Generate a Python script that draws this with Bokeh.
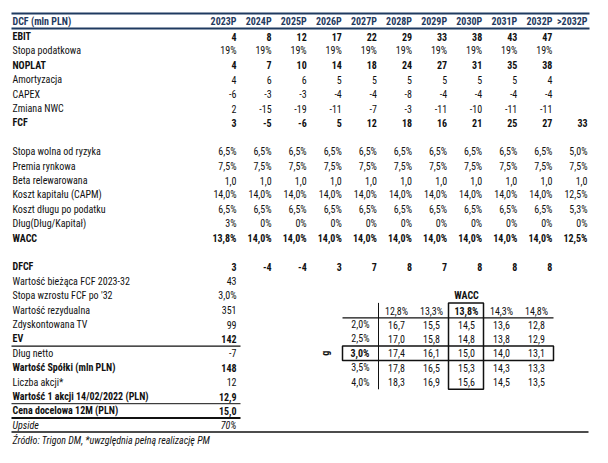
from bokeh.plotting import figure
from bokeh.models import Range1d, ColumnDataSource
from bokeh.core.properties import value
from bokeh.embed import file_html
from bokeh.resources import INLINE

# ---------------- data ----------------
years = ["2023P", "2024P", "2025P", "2026P", "2027P", "2028P", "2029P", "2030P", "2031P", "2032P", ">2032P"]
header_label = "DCF (mln PLN)"

ebit = ["4", "8", "12", "17", "22", "29", "33", "38", "43", "47", ""]
tax_rate = ["19%"] * 10 + [""]
noplat = ["4", "7", "10", "14", "18", "24", "27", "31", "35", "38", ""]
amort = ["4", "6", "6", "5", "5", "5", "5", "5", "5", "4", ""]
capex = ["-6", "-3", "-3", "-4", "-4", "-8", "-4", "-4", "-4", "-4", ""]
nwc = ["2", "-15", "-19", "-11", "-7", "-3", "-11", "-10", "-11", "-11", ""]
fcf = ["3", "-5", "-6", "5", "12", "18", "16", "21", "25", "27", "33"]
rf = ["6,5%"] * 10 + ["5,0%"]
premium = ["7,5%"] * 11
beta = ["1,0"] * 11
coe = ["14,0%"] * 10 + ["12,5%"]
cod = ["6,5%"] * 10 + ["5,3%"]
debt_ratio = ["3%"] + ["0%"] * 10
wacc = ["13,8%"] + ["14,0%"] * 9 + ["12,5%"]
dfcf = ["3", "-4", "-4", "3", "7", "8", "7", "8", "8", "8", ""]

# (row index, label, values, bold)
table_rows = [
    (0, "EBIT", ebit, True),
    (1, "Stopa podatkowa", tax_rate, False),
    (2, "NOPLAT", noplat, True),
    (3, "Amortyzacja", amort, False),
    (4, "CAPEX", capex, False),
    (5, "Zmiana NWC", nwc, False),
    (6, "FCF", fcf, True),
    (8, "Stopa wolna od ryzyka", rf, False),
    (9, "Premia rynkowa", premium, False),
    (10, "Beta relewarowana", beta, False),
    (11, "Koszt kapitału (CAPM)", coe, False),
    (12, "Koszt długu po podatku", cod, False),
    (13, "Dług(Dług/Kapitał)", debt_ratio, False),
    (14, "WACC", wacc, True),
    (16, "DFCF", dfcf, True),
]

val_labels = ["Wartość bieżąca FCF 2023-32", "Stopa wzrostu FCF po '32", "Wartość rezydualna",
              "Zdyskontowana TV", "EV", "Dług netto", "Wartość Spółki (mln PLN)", "Liczba akcji*",
              "Wartość 1 akcji 14/02/2022 (PLN)", "Cena docelowa 12M (PLN)", "Upside"]
val_values = ["43", "3,0%", "351", "99", "142", "-7", "148", "12", "12,9", "15,0", "70%"]
val_style = ["normal", "normal", "normal", "normal", "bold", "normal", "bold", "normal", "bold", "bold", "italic"]
source_note = "Źródło: Trigon DM, *uwzględnia pełną realizację PM"

sens_title = "WACC"
sens_g_label = "g"
sens_wacc = ["12,8%", "13,3%", "13,8%", "14,3%", "14,8%"]
sens_g = ["2,0%", "2,5%", "3,0%", "3,5%", "4,0%"]
sens_matrix = [
    ["16,7", "15,5", "14,5", "13,6", "12,8"],
    ["17,0", "15,8", "14,8", "13,8", "12,9"],
    ["17,4", "16,1", "15,0", "14,0", "13,1"],
    ["17,8", "16,5", "15,3", "14,3", "13,3"],
    ["18,3", "16,9", "15,6", "14,5", "13,5"],
]

# ---------------- layout ----------------
FONT = value("'Liberation Sans Narrow', 'Arial Narrow', 'Roboto Condensed', 'DejaVu Sans Condensed', sans-serif")
FS = "10px"
NAVY = "#1F3A60"
TXT = "#111111"

Y0, DY = 36.0, 14.4
LX = 12
COL0, CDX = 236.0, 35.1
HEAD_Y = 21

def ry(i):
    return Y0 + i * DY

p = figure(width=592, height=447, output_backend="svg", toolbar_location=None,
           x_range=Range1d(0, 592), y_range=Range1d(447, 0),
           x_axis_type=None, y_axis_type=None, min_border=0,
           outline_line_color=None)
p.grid.visible = False
p.background_fill_color = "white"
p.border_fill_color = "white"

texts = {k: dict(x=[], y=[], t=[]) for k in
         ["head_l", "head_r", "norm_l", "norm_r", "bold_l", "bold_r", "it_l", "it_r",
          "norm_c", "bold_c"]}

def add(k, x, y, t):
    texts[k]["x"].append(x); texts[k]["y"].append(y); texts[k]["t"].append(t)

add("head_l", LX, HEAD_Y, header_label)
for j, yr in enumerate(years):
    add("head_r", COL0 + j * CDX, HEAD_Y, yr)

for i, lab, vals, bold in table_rows:
    s = "bold" if bold else "norm"
    add(s + "_l", LX, ry(i), lab)
    for j, v in enumerate(vals):
        if v:
            add(s + "_r", COL0 + j * CDX, ry(i), v)

for k, (lab, v, st) in enumerate(zip(val_labels, val_values, val_style)):
    s = {"normal": "norm", "bold": "bold", "italic": "it"}[st]
    add(s + "_l", LX, ry(17 + k), lab)
    add(s + "_r", COL0, ry(17 + k), v)
add("it_l", LX, ry(28) + 1, source_note)

# sensitivity table
SX0, SDX = 396.0, 35.0
SLAB_X = 369
add("bold_c", SX0 + 2 * SDX, ry(18), sens_title)
for j, w in enumerate(sens_wacc):
    add("bold_c" if j == 2 else "norm_c", SX0 + j * SDX, ry(19) + 1.5, w)
for r, g in enumerate(sens_g):
    add("bold_r" if r == 2 else "norm_r", SLAB_X, ry(20 + r), g)
    for j, v in enumerate(sens_matrix[r]):
        add("norm_c", SX0 + j * SDX, ry(20 + r), v)

styles = {
    "head_l": ("left", "bold", NAVY), "head_r": ("right", "bold", NAVY),
    "norm_l": ("left", "normal", TXT), "norm_r": ("right", "normal", TXT),
    "bold_l": ("left", "bold", TXT), "bold_r": ("right", "bold", TXT),
    "it_l": ("left", "italic", TXT), "it_r": ("right", "italic", TXT),
    "norm_c": ("center", "normal", TXT), "bold_c": ("center", "bold", TXT),
}
for k, d in texts.items():
    if not d["x"]:
        continue
    al, st, col = styles[k]
    src = ColumnDataSource(dict(x=d["x"], y=d["y"], t=d["t"]))
    p.text(x="x", y="y", text="t", source=src, text_align=al, text_baseline="middle",
           text_font=FONT, text_font_size=FS, text_font_style=st, text_color=col)

# rotated g label
p.text(x=[325], y=[ry(22)], text=[sens_g_label], angle=1.5708, text_align="center",
       text_baseline="middle", text_font=FONT, text_font_size=FS, text_font_style="bold",
       text_color=TXT)

# lines
RIGHT = 589
seg = dict(x0=[], y0=[], x1=[], y1=[], w=[], c=[])
def line(x0, y0, x1, y1, w, c=TXT):
    seg["x0"].append(x0); seg["y0"].append(y0); seg["x1"].append(x1); seg["y1"].append(y1)
    seg["w"].append(w); seg["c"].append(c)

line(LX - 1, 13, RIGHT, 13, 2, NAVY)
line(LX - 1, 28, RIGHT, 28, 2, NAVY)
line(LX - 1, (ry(21) + ry(22)) / 2, 240, (ry(21) + ry(22)) / 2, 1.3)
line(LX - 1, (ry(25) + ry(26)) / 2, 240, (ry(25) + ry(26)) / 2, 1)
line(LX - 1, (ry(26) + ry(27)) / 2, 240, (ry(26) + ry(27)) / 2, 2)
line(LX - 1, (ry(27) + ry(28)) / 2 - 0.5, 588, (ry(27) + ry(28)) / 2 - 0.5, 1.3)
# sensitivity grid
line(342, (ry(19) + ry(20)) / 2 + 0.5, 553, (ry(19) + ry(20)) / 2 + 0.5, 1.3)
line(378, ry(18.5), 378, ry(24.5), 1)
p.segment(x0="x0", y0="y0", x1="x1", y1="y1", line_width="w", line_color="c",
          source=ColumnDataSource(seg))

p.quad(left=[448, 342], right=[483, 553], top=[ry(18.5), ry(21.5)], bottom=[ry(24.5), ry(22.5)],
       fill_alpha=0, line_color=TXT, line_width=1.5)

open("out.html", "w").write(file_html(p, INLINE))
